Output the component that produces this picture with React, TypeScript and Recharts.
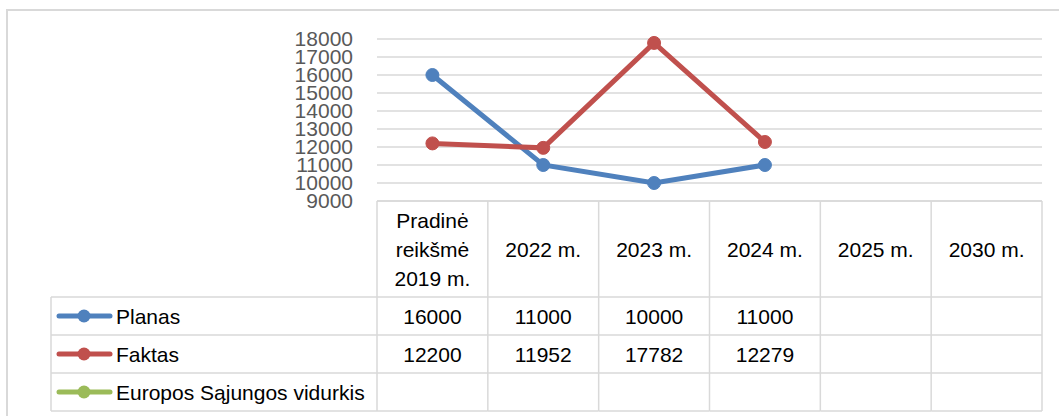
import React from 'react';
import { LineChart, Line, XAxis, YAxis, CartesianGrid } from 'recharts';

// DATA
const categories: string[][] = [
    ['Pradinė', 'reikšmė', '2019 m.'],
    ['2022 m.'],
    ['2023 m.'],
    ['2024 m.'],
    ['2025 m.'],
    ['2030 m.'],
];
const planas: (number | null)[] = [16000, 11000, 10000, 11000, null, null];
const faktas: (number | null)[] = [12200, 11952, 17782, 12279, null, null];
const esVidurkis: (number | null)[] = [null, null, null, null, null, null];
const yTicks = [9000, 10000, 11000, 12000, 13000, 14000, 15000, 16000, 17000, 18000];

const series = [
    { key: 'planas', name: 'Planas', color: '#4F81BD', values: planas },
    { key: 'faktas', name: 'Faktas', color: '#C0504D', values: faktas },
    { key: 'es', name: 'Europos Sąjungos vidurkis', color: '#9BBB59', values: esVidurkis },
];

const data = categories.map((c, i) => ({
    label: c.join(' '),
    planas: planas[i],
    faktas: faktas[i],
    es: esVidurkis[i],
}));

// LAYOUT
const W = 1059;
const H = 416;
const Y_AXIS_W = 377;
const MARGIN_RIGHT = 17;
const COL_W = (W - Y_AXIS_W - MARGIN_RIGHT) / categories.length;
const HEADER_H = 96;
const ROW_H = 38;
const LEGEND_LEFT = 51;
const GRID = '#d9d9d9';
const FONT = '"Liberation Sans", Arial, sans-serif';
const FS = 21;

// TABLE COLUMN (drawn as x axis tick)
const TableColumn = (props: any) => {
    const { x, y, index } = props;
    const left = x - COL_W / 2;
    const right = x + COL_W / 2;
    const lines = categories[index];
    const rowsTop = y + HEADER_H;
    const bottom = rowsTop + ROW_H * series.length;
    const hLines = [y, rowsTop, rowsTop + ROW_H, rowsTop + ROW_H * 2, bottom];

    return (
        <g>
            {hLines.map((hy, k) => (
                <line key={'h' + k} x1={left} x2={right} y1={hy} y2={hy} stroke={GRID} strokeWidth={1.5} />
            ))}
            <line x1={right} x2={right} y1={y} y2={bottom} stroke={GRID} strokeWidth={1.5} />
            {index === 0 && (
                <g>
                    <line x1={left} x2={left} y1={y} y2={bottom} stroke={GRID} strokeWidth={1.5} />
                    <line x1={LEGEND_LEFT} x2={LEGEND_LEFT} y1={rowsTop} y2={bottom} stroke={GRID} strokeWidth={1.5} />
                    {hLines.slice(1).map((hy, k) => (
                        <line key={'l' + k} x1={LEGEND_LEFT} x2={left} y1={hy} y2={hy} stroke={GRID} strokeWidth={1.5} />
                    ))}
                    {series.map((s, k) => {
                        const cy = rowsTop + ROW_H * k + ROW_H / 2;
                        return (
                            <g key={s.key}>
                                <line x1={59} x2={110} y1={cy} y2={cy} stroke={s.color} strokeWidth={5} strokeLinecap="round" />
                                <circle cx={84} cy={cy} r={6.5} fill={s.color} />
                                <text x={116} y={cy} dominantBaseline="central" fontSize={FS} fill="#000">{s.name}</text>
                            </g>
                        );
                    })}
                </g>
            )}
            <text x={x} y={y + HEADER_H / 2 - (lines.length - 1) * 14.5} textAnchor="middle" fontSize={FS} fill="#000">
                {lines.map((t, k) => (
                    <tspan key={k} x={x} dy={k === 0 ? 0 : 29} dominantBaseline="central">{t}</tspan>
                ))}
            </text>
            {series.map((s, k) => {
                const v = s.values[index];
                if (v == null) return null;
                return (
                    <text key={s.key} x={x} y={rowsTop + ROW_H * k + ROW_H / 2} dominantBaseline="central"
                        textAnchor="middle" fontSize={FS} fill="#000">{v}</text>
                );
            })}
        </g>
    );
};

// COMPONENT
const App: React.FC = () => {
    return (
        <div style={{ position: 'absolute', left: 0, top: 0, width: W, height: H, background: '#fff', fontFamily: FONT }}>
            <div style={{ position: 'absolute', left: 6, top: 9, right: -10, bottom: -10, borderTop: `2px solid ${GRID}`, borderLeft: `2px solid ${GRID}` }} />
            <LineChart width={W} height={H} data={data} margin={{ top: 39, right: MARGIN_RIGHT, left: 0, bottom: 0 }}
                style={{ fontFamily: FONT }}>
                <CartesianGrid vertical={false} stroke={GRID} strokeWidth={1.5} />
                <XAxis dataKey="label" height={H - 39 - 162} interval={0} tickLine={false} axisLine={false}
                    padding={{ left: COL_W / 2, right: COL_W / 2 }}
                    tickSize={0} tickMargin={0} tick={(p: any) => <TableColumn {...p} />} />
                <YAxis width={Y_AXIS_W} domain={[9000, 18000]} ticks={yTicks} interval={0} tickLine={false}
                    axisLine={false} tickSize={0} tickMargin={24} tick={{ fill: '#595959', fontSize: 21 }} />
                {series.map(s => (
                    <Line key={s.key} dataKey={s.key} name={s.name} stroke={s.color} strokeWidth={5}
                        dot={{ r: 6.5, fill: s.color, stroke: s.color, strokeWidth: 1 }} activeDot={false}
                        isAnimationActive={false} />
                ))}
            </LineChart>
        </div>
    );
};

export default App;
